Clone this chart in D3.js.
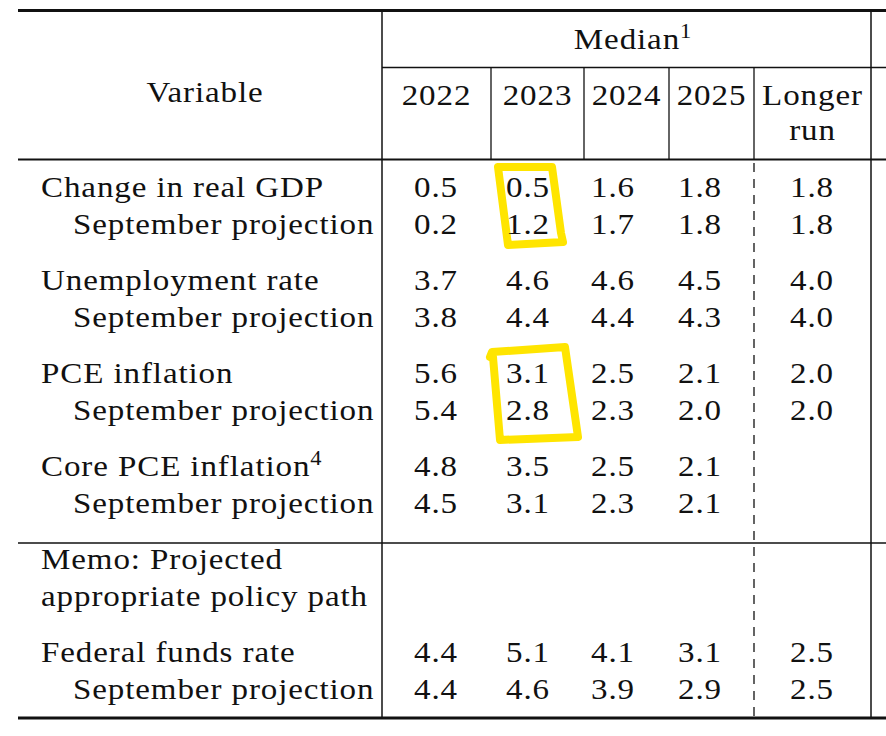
<!DOCTYPE html>
<html>
<head>
<meta charset="utf-8">
<script src="https://cdn.jsdelivr.net/npm/d3@7"></script>
</head>
<body style="margin:0;padding:0;background:#fff">
<svg id="chart" width="886" height="736" style="display:block"></svg>
<script>
// ---------- DATA ----------
const columns = ["2022", "2023", "2024", "2025", "Longer run"];
const headerTitle = "Median";
const headerFootnote = "1";
const variables = ["Change in real GDP", "Unemployment rate", "PCE inflation", "Core PCE inflation", "Federal funds rate"];
const variableFootnotes = ["", "", "", "4", ""];
const subLabel = "September projection";
const medianValues = [
  [0.5, 0.5, 1.6, 1.8, 1.8],
  [3.7, 4.6, 4.6, 4.5, 4.0],
  [5.6, 3.1, 2.5, 2.1, 2.0],
  [4.8, 3.5, 2.5, 2.1, null],
  [4.4, 5.1, 4.1, 3.1, 2.5]
];
const septemberValues = [
  [0.2, 1.2, 1.7, 1.8, 1.8],
  [3.8, 4.4, 4.4, 4.3, 4.0],
  [5.4, 2.8, 2.3, 2.0, 2.0],
  [4.5, 3.1, 2.3, 2.1, null],
  [4.4, 4.6, 3.9, 2.9, 2.5]
];
const memoLines = ["Memo: Projected", "appropriate policy path"];
const highlightColumn = "2023";
const highlightVariables = ["Change in real GDP", "PCE inflation"];

// ---------- LAYOUT ----------
const svg = d3.select("#chart");
const FONT = "'Liberation Serif'";
const FS = 29.5;      // main font size
const SUP = 20;       // superscript font size
const SX = 1.12;      // horizontal stretch to mimic Computer Modern width
const LS = 0.8;       // letter spacing
const INK = "#111";
const leftX = 18, rightX = 886, splitX = 382, innerRightX = 871;
const colEdges = [382, 491, 584, 669, 754, 871];
const headerX = d3.scaleOrdinal(columns, columns.map((c, i) => (colEdges[i] + colEdges[i + 1]) / 2));
const valueX = d3.scaleOrdinal(columns, [436, 528, 613, 700, 812]);

// body line baseline: line index k, gap count g
const lineY = (k, g) => 197 + 37 * k + 19 * g;
const rowLayout = variables.map((v, i) => i < 4 ? { k: 2 * i, g: i } : { k: 10, g: 5 });
const memoLayout = [{ k: 8, g: 4 }, { k: 9, g: 4 }];

function txt(parent, x, y, anchor) {
  return parent.append("text")
    .attr("font-family", FONT)
    .attr("font-size", FS)
    .attr("letter-spacing", LS)
    .attr("fill", INK)
    .attr("text-anchor", anchor || "start")
    .attr("transform", `translate(${x},${y}) scale(${SX},1)`);
}

const rules = svg.append("g").attr("stroke", INK).attr("fill", "none");
rules.append("line").attr("x1", leftX).attr("x2", rightX).attr("y1", 10.5).attr("y2", 10.5).attr("stroke-width", 3);
rules.append("line").attr("x1", splitX).attr("x2", rightX).attr("y1", 67.5).attr("y2", 67.5).attr("stroke-width", 1.3);
rules.append("line").attr("x1", leftX).attr("x2", rightX).attr("y1", 159.5).attr("y2", 159.5).attr("stroke-width", 1.8);
rules.append("line").attr("x1", leftX).attr("x2", rightX).attr("y1", 543).attr("y2", 543).attr("stroke-width", 1.6);
rules.append("line").attr("x1", leftX).attr("x2", rightX).attr("y1", 718).attr("y2", 718).attr("stroke-width", 3);
rules.append("line").attr("x1", splitX).attr("x2", splitX).attr("y1", 12).attr("y2", 717).attr("stroke-width", 1.5);
rules.append("line").attr("x1", innerRightX).attr("x2", innerRightX).attr("y1", 12).attr("y2", 717).attr("stroke-width", 1.5);
rules.selectAll("line.colsep").data(colEdges.slice(1, 5)).enter().append("line")
  .attr("class", "colsep")
  .attr("x1", d => d).attr("x2", d => d).attr("y1", 67.5).attr("y2", 159.5).attr("stroke-width", 1.3);
rules.append("line").attr("x1", colEdges[4]).attr("x2", colEdges[4]).attr("y1", 160).attr("y2", 717)
  .attr("stroke-width", 1.3).attr("stroke-dasharray", "9,7").attr("stroke-dashoffset", -3);

// ---------- HIGHLIGHTS (behind text) ----------
const boxShapes = [
  [[-30, -30], [24, -30], [33, 36], [35, 45], [-20, 48], [-30, -30]],
  [[-38, -26], [-36, -31], [37, -36], [50, 54], [-28, 57], [-35, -26]]
];
const hl = svg.append("g").attr("fill", "none").attr("stroke", "#FFE500")
  .attr("stroke-width", 8).attr("stroke-linejoin", "round").attr("stroke-linecap", "round");
const line = d3.line().curve(d3.curveLinear);
highlightVariables.forEach((v, n) => {
  const i = variables.indexOf(v);
  const L = rowLayout[i];
  const cx = valueX(highlightColumn), cy = lineY(L.k, L.g);
  hl.append("path").attr("d", line(boxShapes[n].map(p => [cx + p[0], cy + p[1]])));
});

// ---------- HEADER ----------
const hdr = svg.append("g");
txt(hdr, 205, 102, "middle").text("Variable");
const med = txt(hdr, 633, 49, "middle");
med.append("tspan").text(headerTitle);
med.append("tspan").attr("font-size", SUP).attr("dy", -11).text(headerFootnote);

columns.forEach(c => {
  const t = txt(hdr, headerX(c), 105, "middle");
  c.split(" ").forEach((p, i) => {
    t.append("tspan").attr("x", 0).attr("dy", i === 0 ? 0 : 35).text(p);
  });
});

// ---------- BODY ----------
const body = svg.append("g");
variables.forEach((v, i) => {
  const L = rowLayout[i];
  const y1 = lineY(L.k, L.g), y2 = lineY(L.k + 1, L.g);
  const t = txt(body, 41, y1);
  t.append("tspan").text(v);
  if (variableFootnotes[i]) t.append("tspan").attr("font-size", SUP).attr("dy", -11).text(variableFootnotes[i]);
  txt(body, 73, y2).text(subLabel);

  [[medianValues[i], y1], [septemberValues[i], y2]].forEach(([vals, y]) => {
    vals.forEach((val, j) => {
      if (val === null) return;
      txt(body, valueX(columns[j]), y, "middle").text(d3.format(".1f")(val));
    });
  });
});
memoLines.forEach((m, i) => {
  txt(body, 41, lineY(memoLayout[i].k, memoLayout[i].g)).text(m);
});
</script>
</body>
</html>
